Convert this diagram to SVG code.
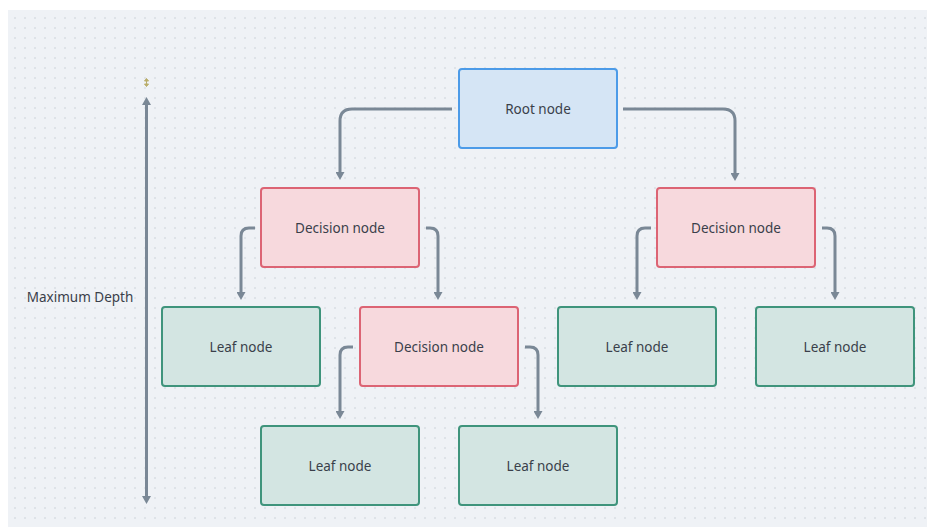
<svg xmlns="http://www.w3.org/2000/svg" width="927" height="527" viewBox="0 0 927 527">
  <defs>
    <pattern id="dots" x="0" y="0" width="10" height="10" patternUnits="userSpaceOnUse">
      <circle cx="5" cy="8" r="0.8" fill="#c9ced5"/>
    </pattern>
    <marker id="arrow" viewBox="0 0 8 9" markerWidth="8" markerHeight="9" refX="2" refY="4.5" orient="auto-start-reverse" markerUnits="userSpaceOnUse">
      <path d="M0,0 L8,4.5 L0,9 z" fill="#7a8896"/>
    </marker>
    <style>
      .root rect { fill: #d5e5f5; stroke: #4c9be8; stroke-width: 2; }
      .decision rect { fill: #f7d9dd; stroke: #dc6474; stroke-width: 2; }
      .leaf rect { fill: #d3e5e2; stroke: #3f947c; stroke-width: 2; }
      text { font-family: "Noto Sans", "Liberation Sans", sans-serif; font-size: 13.5px; fill: #3a3f4a; text-anchor: middle; dominant-baseline: central; }
      .conn path, .conn line { fill: none; stroke: #7a8896; stroke-width: 3; marker-end: url(#arrow); }
    </style>
  </defs>

  <!-- canvas -->
  <rect x="0" y="0" width="927" height="527" fill="#ffffff"/>
  <rect x="8" y="10" width="919" height="517" fill="#eff2f6"/>
  <rect x="8" y="10" width="919" height="517" fill="url(#dots)"/>

  <!-- depth scale -->
  <g id="depth">
    <line x1="146.5" y1="103" x2="146.5" y2="498" stroke="#7a8896" stroke-width="3" marker-start="url(#arrow)" marker-end="url(#arrow)"/>
    <path d="M146.5,78.5 L148.5,81 L144.5,81 z M146.5,86.5 L148.5,84 L144.5,84 z M146.5,81 V84" fill="#b9ad6a" stroke="#b9ad6a" stroke-width="1"/>
    <text x="80" y="297" font-size="13">Maximum Depth</text>
  </g>

  <!-- connectors -->
  <g id="connectors" class="conn">
    <path d="M452,109 H352 Q340,109 340,121 V174"/>
    <path d="M623,109 H723 Q735,109 735,121 V175"/>
    <path d="M255,228 H249 Q241,228 241,236 V294"/>
    <path d="M426,228 H430 Q438,228 438,236 V294"/>
    <path d="M651,228 H645 Q637,228 637,236 V294"/>
    <path d="M822,228 H827 Q835,228 835,236 V294"/>
    <path d="M353,347 H348 Q340,347 340,355 V413"/>
    <path d="M525,347 H530 Q538,347 538,355 V413"/>
  </g>

  <!-- nodes -->
  <g id="root" class="root">
    <rect x="459" y="69" width="158" height="79" rx="3"/>
    <text x="538" y="109">Root node</text>
  </g>
  <g id="decision-left" class="decision">
    <rect x="261" y="188" width="158" height="79" rx="3"/>
    <text x="340" y="228">Decision node</text>
  </g>
  <g id="decision-right" class="decision">
    <rect x="657" y="188" width="158" height="79" rx="3"/>
    <text x="736" y="228">Decision node</text>
  </g>
  <g id="leaf-1" class="leaf">
    <rect x="162" y="307" width="158" height="79" rx="3"/>
    <text x="241" y="347">Leaf node</text>
  </g>
  <g id="decision-mid" class="decision">
    <rect x="360" y="307" width="158" height="79" rx="3"/>
    <text x="439" y="347">Decision node</text>
  </g>
  <g id="leaf-2" class="leaf">
    <rect x="558" y="307" width="158" height="79" rx="3"/>
    <text x="637" y="347">Leaf node</text>
  </g>
  <g id="leaf-3" class="leaf">
    <rect x="756" y="307" width="158" height="79" rx="3"/>
    <text x="835" y="347">Leaf node</text>
  </g>
  <g id="leaf-4" class="leaf">
    <rect x="261" y="426" width="158" height="79" rx="3"/>
    <text x="340" y="466">Leaf node</text>
  </g>
  <g id="leaf-5" class="leaf">
    <rect x="459" y="426" width="158" height="79" rx="3"/>
    <text x="538" y="466">Leaf node</text>
  </g>
</svg>
